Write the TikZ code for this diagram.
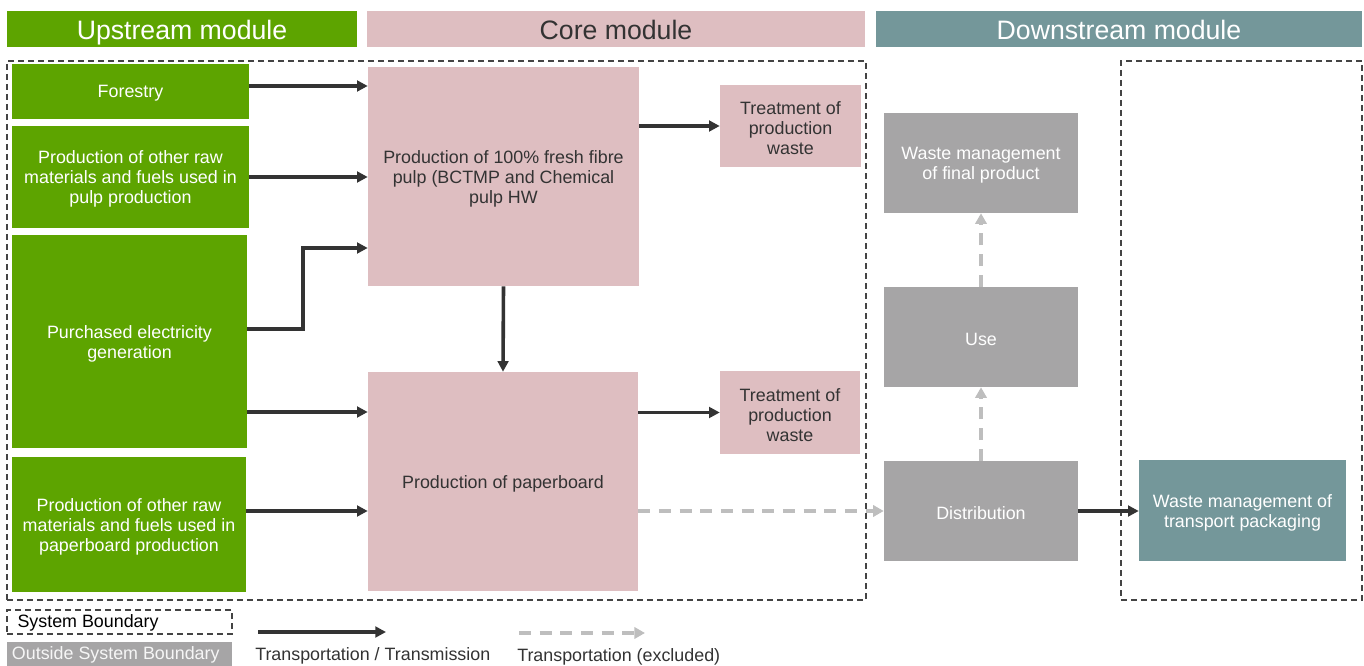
\documentclass[tikz,border=0pt]{standalone}
\usepackage{fontspec}
\setmainfont{Liberation Sans}
\usetikzlibrary{arrows.meta,fit,calc}
\definecolor{grn}{HTML}{5DA400}
\definecolor{pnk}{HTML}{DEBEC1}
\definecolor{gry}{HTML}{A6A5A6}
\definecolor{tea}{HTML}{74979A}
\definecolor{ink}{HTML}{333333}
\definecolor{dsh}{HTML}{BEBEBE}
\definecolor{bnd}{HTML}{444444}
\begin{document}
\begin{tikzpicture}[x=0.75pt,y=-0.75pt,
  txt/.style={font=\fontsize{13.4}{15}\selectfont},
  lab/.style={inner sep=0pt, align=center, txt, yshift=-1.6pt},
  box/.style={inner sep=0pt},
  gbox/.style={box, fill=grn, label={[lab, text=white]center:#1}},
  pbox/.style={box, fill=pnk, label={[lab, text=ink]center:#1}},
  ybox/.style={box, fill=gry, label={[lab, text=white]center:#1}},
  tbox/.style={box, fill=tea, label={[lab, text=white]center:#1}},
  hlab/.style={inner sep=0pt, font=\fontsize{20}{22}\selectfont, text height=14.5pt, text depth=4.2pt, yshift=-2.6pt},
  boundary/.style={draw=bnd, line width=1.1pt, dash pattern=on 4.5pt off 3pt},
  arr/.style={draw=ink, line width=2.7pt, -{Triangle[length=8pt,width=8pt]}},
  darr/.style={draw=dsh, line width=2.8pt, dash pattern=on 9pt off 6.5pt, -{Triangle[length=8pt,width=8.5pt]}}
]
\useasboundingbox (0,0) rectangle (1364,666);

% headers
\node[box, fill=grn, fit={(7,11) (357,47)}, label={[hlab, text=white]center:Upstream module}] (hup) {};
\node[box, fill=pnk, fit={(367,11) (865,47)}, label={[hlab, text=ink]center:Core module}] (hcore) {};
\node[box, fill=tea, fit={(876,11) (1362,47)}, label={[hlab, text=white]center:Downstream module}] (hdown) {};

% system boundaries
\node[boundary, inner sep=0pt, fit={(7,61) (866,600)}] (sb1) {};
\node[boundary, inner sep=0pt, fit={(1121,61) (1362,600)}] (sb2) {};

% upstream boxes
\node[gbox={Forestry}, fit={(12,64) (249,119)}] (forestry) {};
\node[gbox={Production of other raw\\materials and fuels used in\\pulp production}, fit={(12,126) (249,228)}] (raw1) {};
\node[gbox={Purchased electricity\\generation}, fit={(12,235) (247,448)}] (elec) {};
\node[gbox={Production of other raw\\materials and fuels used in\\paperboard production}, fit={(12,457) (246,592)}] (raw2) {};

% core boxes
\node[pbox={Production of 100\% fresh fibre\\pulp (BCTMP and Chemical\\pulp HW}, fit={(368,67) (639,286)}] (pulp) {};
\node[pbox={Production of paperboard}, fit={(368,372) (638,591)}] (board) {};
\node[pbox={Treatment of\\production\\waste}, fit={(720,85) (861,167)}] (treat1) {};
\node[pbox={Treatment of\\production\\waste}, fit={(720,371) (860,454)}] (treat2) {};

% downstream boxes
\node[ybox={Waste management\\of final product}, fit={(884,113) (1078,213)}] (wfinal) {};
\node[ybox={Use}, fit={(884,287) (1078,387)}] (use) {};
\node[ybox={Distribution}, fit={(884,461) (1078,561)}] (dist) {};
\node[tbox={Waste management of\\transport packaging}, fit={(1139,460) (1346,561)}] (wpack) {};

% connectors
\draw[arr] ($(forestry.east)+(0,-5.5)$) -- ($(pulp.west|-forestry.east)+(0,-5.5)$);
\draw[arr] (raw1.east) -- (pulp.west|-raw1.east);
\draw[arr] ($(elec.east)+(0,-12.5)$) -- ($(elec.east)+(56,-12.5)$) |- ($(pulp.west)+(0,71.5)$);
\draw[arr] ($(elec.east)+(0,70.5)$) -- ($(board.west|-elec.east)+(0,70.5)$);
\draw[arr] (raw2.east|-dist.west) -- (board.west|-dist.west);
\draw[arr] (pulp.south) -- (board.north);
\draw[arr] (pulp.east|-treat1.west) -- (treat1.west);
\draw[arr] (board.east|-treat2.west) -- (treat2.west);
\draw[darr] (board.east|-dist.west) -- (dist.west);
\draw[darr] (dist.north) -- (use.south);
\draw[darr] (use.north) -- (wfinal.south);
\draw[arr] (dist.east) -- (wpack.west|-dist.east);

% legend
\node[boundary, inner sep=0pt, fit={(7,610) (232,634)}] (lsb) {};
\node[txt, anchor=west, inner sep=0pt] (lsbt) at ($(lsb.west)+(11,1)$) {System Boundary};
\node[inner sep=0pt, fill=gry, fit={(7,642) (232,666)}] (losb) {};
\node[txt, anchor=west, inner sep=0pt, text=white!93!gray] (losbt) at ($(losb.west)+(5,1)$) {Outside System Boundary};
\coordinate (la1) at (258,632);
\coordinate (la2) at (386,632);
\draw[arr] (la1) -- (la2);
\coordinate (lb1) at (519,633);
\coordinate (lb2) at (645,633);
\draw[darr] (lb1) -- (lb2);
\node[txt, anchor=west, inner sep=0pt, text=ink] (lat) at (255,656) {Transportation / Transmission};
\node[txt, anchor=west, inner sep=0pt, text=ink] (lbt) at (517,657) {Transportation (excluded)};
\end{tikzpicture}
\end{document}
